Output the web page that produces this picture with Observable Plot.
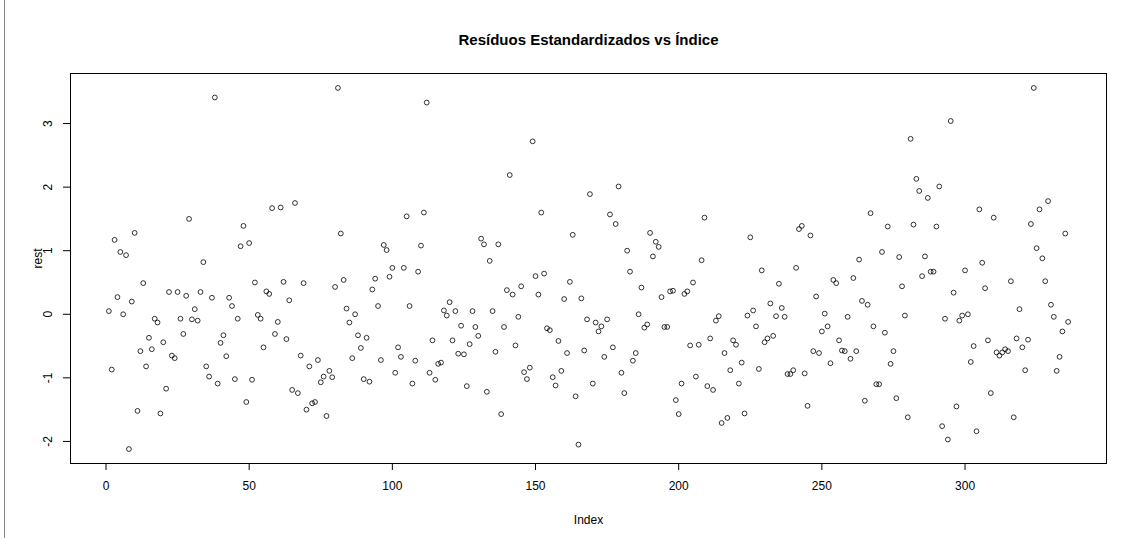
<!DOCTYPE html>
<html><head><meta charset="utf-8">
<script src="https://cdn.jsdelivr.net/npm/d3@7"></script>
<script src="https://cdn.jsdelivr.net/npm/@observablehq/plot@0.6"></script>
<style>
body{margin:0;background:#fff;}
#chart{position:relative;width:1133px;height:538px;}
#edge{position:absolute;left:4px;top:0;width:1px;height:538px;background:#888;}
</style>
</head><body><div id="chart"><div id="edge"></div></div>
<script>
const title = "Resíduos Estandardizados vs Índice";
const xLabel = "Index";
const yLabel = "rest";
const xTicks = [0, 50, 100, 150, 200, 250, 300];
const yTicks = [-2, -1, 0, 1, 2, 3];
const rest = [
 0.05,-0.87,1.17,0.27,0.98,0.00,0.93,-2.12,0.20,1.28,
 -1.52,-0.58,0.49,-0.82,-0.37,-0.55,-0.07,-0.13,-1.56,-0.44,
 -1.17,0.35,-0.65,-0.69,0.35,-0.07,-0.31,0.29,1.50,-0.08,
 0.08,-0.10,0.35,0.82,-0.82,-0.98,0.26,3.41,-1.09,-0.45,
 -0.33,-0.66,0.26,0.13,-1.02,-0.07,1.07,1.39,-1.38,1.12,
 -1.03,0.50,-0.01,-0.07,-0.52,0.36,0.32,1.67,-0.31,-0.12,
 1.68,0.51,-0.39,0.22,-1.19,1.75,-1.24,-0.65,0.49,-1.50,
 -0.82,-1.40,-1.38,-0.72,-1.07,-0.98,-1.60,-0.89,-0.99,0.43,
 3.56,1.27,0.54,0.09,-0.13,-0.69,0.00,-0.33,-0.53,-1.02,
 -0.37,-1.06,0.39,0.56,0.13,-0.72,1.09,1.01,0.59,0.73,
 -0.92,-0.52,-0.67,0.73,1.54,0.13,-1.09,-0.73,0.67,1.08,
 1.60,3.33,-0.92,-0.41,-1.03,-0.78,-0.76,0.06,-0.02,0.19,
 -0.41,0.05,-0.62,-0.18,-0.63,-1.13,-0.47,0.05,-0.20,-0.34,
 1.19,1.10,-1.22,0.84,0.05,-0.59,1.10,-1.57,-0.20,0.38,
 2.19,0.31,-0.49,-0.04,0.44,-0.91,-1.02,-0.84,2.72,0.60,
 0.31,1.60,0.64,-0.22,-0.25,-0.99,-1.12,-0.42,-0.89,0.24,
 -0.61,0.51,1.25,-1.29,-2.05,0.25,-0.57,-0.08,1.89,-1.09,
 -0.13,-0.27,-0.19,-0.67,-0.08,1.57,-0.52,1.42,2.01,-0.92,
 -1.24,1.00,0.67,-0.73,-0.61,0.00,0.42,-0.21,-0.16,1.28,
 0.91,1.14,1.06,0.27,-0.20,-0.20,0.36,0.37,-1.35,-1.57,
 -1.09,0.32,0.36,-0.49,0.50,-0.98,-0.48,0.85,1.52,-1.13,
 -0.38,-1.19,-0.10,-0.03,-1.71,-0.61,-1.63,-0.88,-0.41,-0.48,
 -1.09,-0.76,-1.56,-0.02,1.21,0.06,-0.19,-0.86,0.69,-0.44,
 -0.38,0.17,-0.34,-0.03,0.48,0.10,-0.04,-0.94,-0.94,-0.88,
 0.73,1.34,1.39,-0.93,-1.44,1.24,-0.58,0.28,-0.61,-0.27,
 0.01,-0.19,-0.77,0.54,0.49,-0.41,-0.57,-0.58,-0.04,-0.70,
 0.57,-0.58,0.86,0.21,-1.36,0.15,1.59,-0.19,-1.10,-1.10,
 0.98,-0.29,1.38,-0.78,-0.58,-1.32,0.90,0.44,-0.02,-1.62,
 2.76,1.41,2.13,1.94,0.60,0.91,1.83,0.67,0.67,1.38,
 2.01,-1.76,-0.07,-1.97,3.04,0.34,-1.45,-0.10,-0.02,0.69,
 0.00,-0.75,-0.50,-1.84,1.65,0.81,0.41,-0.41,-1.24,1.52,
 -0.60,-0.65,-0.60,-0.55,-0.58,0.52,-1.62,-0.38,0.08,-0.52,
 -0.88,-0.40,1.42,3.56,1.04,1.65,0.88,0.52,1.78,0.15,
 -0.04,-0.89,-0.67,-0.27,1.27,-0.12
];
const data = rest.map((v, i) => ({index: i + 1, rest: v}));
const pad = (vals) => { const [lo, hi] = d3.extent(vals); const p = (hi - lo) * 0.04; return [lo - p, hi + p]; };
const font = "'Liberation Sans', Arial, Helvetica, sans-serif";
const chart = Plot.plot({
  width: 1133, height: 538,
  marginTop: 73, marginBottom: 75, marginLeft: 70, marginRight: 27,
  style: {fontFamily: font, fontSize: "12px", background: "transparent", color: "black"},
  x: {domain: pad(data.map(d => d.index))},
  y: {domain: pad(rest)},
  marks: [
    Plot.frame({stroke: "black", strokeWidth: 1}),
    Plot.axisX({ticks: xTicks, tickSize: 7, tickPadding: 11, label: null, fontSize: 12}),
    Plot.axisY({ticks: yTicks, tickSize: 7, tickFormat: () => "", label: null}),
    Plot.text(yTicks, {y: d => d, text: d => String(d), frameAnchor: "left", dx: -22, rotate: -90, textAnchor: "middle", lineAnchor: "middle", fontSize: 12}),
    Plot.dot(data, {x: "index", y: "rest", r: 2.4, stroke: "black", strokeWidth: 0.8, fill: "none"}),
    Plot.text([title], {frameAnchor: "top", dy: -33, fontWeight: "bold", fontSize: 15, lineAnchor: "middle"}),
    Plot.text([xLabel], {frameAnchor: "bottom", dy: 57, fontSize: 12, lineAnchor: "middle"}),
    Plot.text([yLabel], {frameAnchor: "left", dx: -32, rotate: -90, fontSize: 12, lineAnchor: "middle"})
  ]
});
document.getElementById("chart").appendChild(chart);
</script>
</body></html>
